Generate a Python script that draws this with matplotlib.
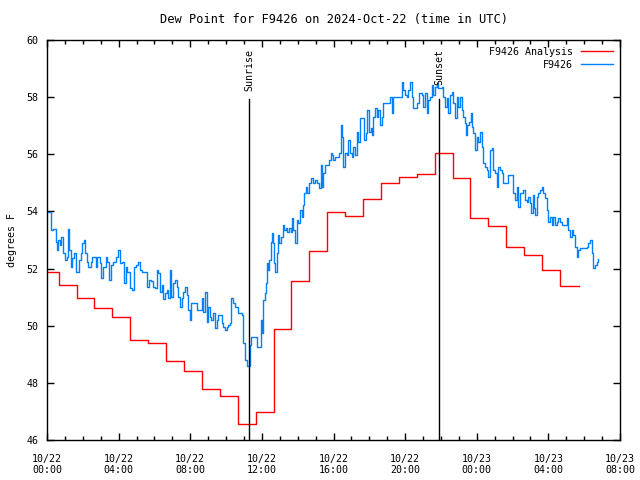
import pandas as pd
import matplotlib
matplotlib.use('Agg')
import matplotlib.pyplot as plt
import matplotlib.dates as mdates

plt.rcParams['font.family'] = 'DejaVu Sans Mono'
plt.rcParams['font.size'] = 7.2

day0 = pd.Timestamp('2024-10-22 00:00')

# analysis (hourly steps), minutes after 10/22 00:00 UTC
red_min = [0, 39, 99, 159, 219, 279, 339, 399, 459, 519, 579, 639, 699, 759, 819, 879,
           939, 999, 1059, 1119, 1179, 1239, 1299, 1359, 1419, 1479, 1539, 1599, 1659, 1719, 1783]
red_val = [51.87, 51.42, 50.96, 50.61, 50.29, 49.49, 49.39, 48.76, 48.40, 47.78, 47.53, 46.55,
           46.97, 49.87, 51.55, 52.61, 53.98, 53.83, 54.42, 54.98, 55.19, 55.31, 56.03, 55.16,
           53.76, 53.48, 52.74, 52.46, 51.95, 51.39, 51.39]

# station obs
blue_min = [0, 12, 15, 21, 29, 32, 37, 44, 48, 55, 59, 66, 70, 74, 79, 85, 90, 96, 102, 107,
            113, 118, 124, 129, 133, 137, 146, 152, 158, 163, 169, 178, 182, 189, 197, 202, 208,
            213, 222, 230, 238, 245, 252, 258, 264, 269, 278, 286, 292, 298, 305, 312, 319, 327,
            334, 342, 350, 356,
            362, 367, 373, 378, 384, 389, 395, 401, 406, 412, 417, 423, 429, 434, 440, 445, 451,
            456, 462, 468, 473, 479, 484, 496, 501, 512, 520, 523, 529, 535, 540, 546, 551, 557,
            563, 568, 574, 579, 585, 590, 596, 602, 607, 613, 618, 624, 630, 641, 652, 658, 663,
            669, 674, 680, 685,
            700, 705, 712, 716, 719, 723, 725, 729, 734, 738, 742, 745, 749, 753, 756, 761, 765,
            770, 775, 779, 783, 790, 795, 801, 805, 812, 816, 821, 825, 831, 837, 842, 848, 853,
            859, 862, 868, 872, 878, 884, 890, 898, 906, 913, 917, 921, 926, 933, 939, 944, 951,
            955, 959, 965, 971,
            980, 984, 989, 993, 999, 1004, 1010, 1015, 1021, 1027, 1032, 1038, 1043, 1049, 1058,
            1062, 1069, 1073, 1080, 1085, 1089, 1094, 1099, 1105, 1110, 1116, 1121, 1127, 1136,
            1144, 1149, 1155, 1161, 1172, 1185, 1189, 1194, 1200, 1205, 1211, 1216, 1222, 1228,
            1237, 1241, 1248, 1255, 1261, 1267, 1272, 1278, 1283, 1289, 1295, 1300, 1306, 1311,
            1317, 1322, 1328, 1334, 1339, 1345, 1350, 1356, 1362, 1367, 1373, 1378, 1384, 1390,
            1395, 1401, 1404, 1409, 1415, 1420, 1424, 1429, 1434, 1440, 1445, 1451, 1457, 1462,
            1468, 1473, 1479, 1484, 1490, 1496, 1501, 1507, 1512, 1518, 1524, 1527, 1531, 1538,
            1546, 1557, 1563, 1568, 1574, 1579, 1585, 1596, 1602, 1607, 1613, 1619,
            1623, 1627, 1632, 1636, 1641, 1646, 1652, 1658, 1663, 1669, 1674, 1680, 1686, 1691,
            1697, 1702, 1708, 1713, 1719, 1725, 1736, 1741, 1747, 1753, 1758, 1764, 1769, 1775,
            1778, 1786, 1797, 1808, 1814, 1820, 1825, 1831, 1836, 1842, 1847]
blue_val = [53.99, 53.99, 53.35, 53.37, 52.94, 52.65, 53.00, 52.82, 53.12, 52.53, 52.30, 52.42,
            53.37, 52.65, 52.07, 52.36, 52.53, 51.89, 51.89, 52.30, 52.53, 52.88, 53.00, 52.53,
            52.24, 52.07, 52.24, 52.42, 52.42, 52.07, 52.42, 52.18, 51.66, 52.07, 52.42, 52.24,
            51.60, 52.12, 52.24, 52.42, 52.65, 52.18, 52.24, 51.48, 52.07, 51.89, 51.31, 51.25,
            52.07, 52.12, 52.24, 51.95, 51.89, 51.89, 51.37, 51.60, 51.58, 51.34,
            51.31, 51.95, 51.83, 51.19, 51.42, 50.92, 51.13, 51.25, 50.96, 51.95, 51.02, 51.48,
            51.60, 51.37, 51.02, 50.67, 50.96, 51.19, 51.37, 51.07, 50.55, 50.20, 50.78, 50.78,
            50.55, 50.55, 50.96, 50.49, 51.19, 50.14, 50.67, 50.32, 50.20, 50.43, 49.91, 50.20,
            50.37, 50.37, 50.08, 49.97, 49.85, 49.97, 50.02, 50.08, 50.96, 50.78, 50.67, 50.43,
            50.37, 49.38, 48.80, 48.59, 48.59, 49.32, 49.59,
            49.59, 49.27, 49.27, 50.20, 49.73, 50.32, 50.90, 51.13, 51.48, 52.18, 51.95, 52.30,
            52.94, 53.23, 52.88, 52.18, 51.89, 52.53, 53.18, 52.88, 53.12, 53.53, 53.35, 53.41,
            53.29, 53.41, 53.29, 53.76, 53.35, 52.88, 53.70, 53.58, 54.05, 53.82, 54.22, 54.63,
            54.87, 54.63, 54.98, 55.16, 54.98, 55.10, 54.98, 54.81, 55.62, 54.87, 55.33, 55.62,
            55.62, 55.80, 56.03, 55.97, 55.80, 55.92, 55.92,
            56.03, 57.02, 56.62, 55.57, 56.03, 55.97, 56.50, 56.03, 55.92, 56.27, 55.97, 56.79,
            56.44, 57.26, 57.26, 56.50, 56.73, 57.55, 56.79, 56.91, 56.67, 57.32, 57.61, 57.32,
            57.55, 57.02, 57.32, 57.78, 57.78, 57.78, 58.02, 57.43, 58.02, 58.02, 58.02, 58.54,
            58.25, 58.07, 58.02, 58.25, 58.54, 58.02, 57.61, 57.61, 57.78, 58.13, 58.07, 57.67,
            58.13, 57.43, 57.90, 58.02, 58.42, 58.07, 58.37, 58.48, 58.31,
            58.31, 58.37, 58.02, 57.67, 57.96, 57.43, 58.07, 58.19, 57.78, 57.26, 58.02, 57.67,
            58.02, 57.55, 57.32, 57.08, 56.67, 57.02, 57.14, 57.43, 56.97, 56.73, 56.15, 56.62,
            56.44, 56.79, 56.27, 55.68, 55.57, 55.45, 55.22, 56.15, 56.21, 55.45, 55.33, 54.87,
            55.57, 55.45, 55.33, 54.98, 54.98, 54.98, 55.27, 55.27, 54.63, 54.40, 54.87, 54.17,
            54.63, 54.75, 54.40, 54.34, 54.52, 54.28,
            53.93, 54.57, 54.11, 53.87, 54.52, 54.63, 54.75, 54.87, 54.63, 54.46, 54.05, 53.64,
            53.82, 53.52, 53.82, 53.52, 53.64, 53.76, 53.64, 53.52, 53.52, 53.76, 53.35, 53.12,
            53.35, 53.18, 52.77, 52.42, 52.65, 52.71, 52.71, 52.77, 52.88, 53.00, 52.53, 52.01,
            52.12, 52.24, 52.32]

sunrise = day0 + pd.Timedelta(minutes=677)
sunset = day0 + pd.Timedelta(minutes=1314)

red_t = [day0 + pd.Timedelta(minutes=m) for m in red_min]
blue_t = [day0 + pd.Timedelta(minutes=m) for m in blue_min]

fig = plt.figure(figsize=(6.4, 4.8), dpi=100)
ax = fig.add_axes([47 / 640, 40 / 480, 573 / 640, 400 / 480])

ax.plot(red_t, red_val, color='#ff0000', lw=1, drawstyle='steps-post', label='F9426 Analysis')
ax.plot(blue_t, blue_val, color='#0080ff', lw=1, drawstyle='steps-post', label='F9426')

for t, name in [(sunrise, 'Sunrise'), (sunset, 'Sunset')]:
    ax.plot([t, t], [46, 57.95], color='black', lw=1)
    ax.text(t, 59.68, name, rotation=90, ha='center', va='top')

ax.set_xlim(day0, day0 + pd.Timedelta(hours=32))
ax.set_ylim(46, 60)
ax.set_yticks(range(46, 61, 2))
ax.xaxis.set_major_locator(mdates.HourLocator(byhour=range(0, 24, 4)))
ax.xaxis.set_minor_locator(mdates.HourLocator())
ax.xaxis.set_major_formatter(mdates.DateFormatter('%m/%d\n%H:%M'))
ax.tick_params(which='both', direction='in', top=True, right=True, width=1)
ax.tick_params(which='major', length=5, pad=6)
ax.tick_params(axis='x', which='major', pad=10)
ax.tick_params(which='minor', length=3)
for s in ax.spines.values():
    s.set_linewidth(1)

ax.set_title('Dew Point for F9426 on 2024-Oct-22 (time in UTC)', pad=12)
ax.set_ylabel('degrees F', labelpad=7)
ax.legend(loc='upper right', frameon=False, markerfirst=False, handlelength=3.2,
          borderaxespad=0.3, labelspacing=0.3)

plt.savefig('out.png', dpi=100)
